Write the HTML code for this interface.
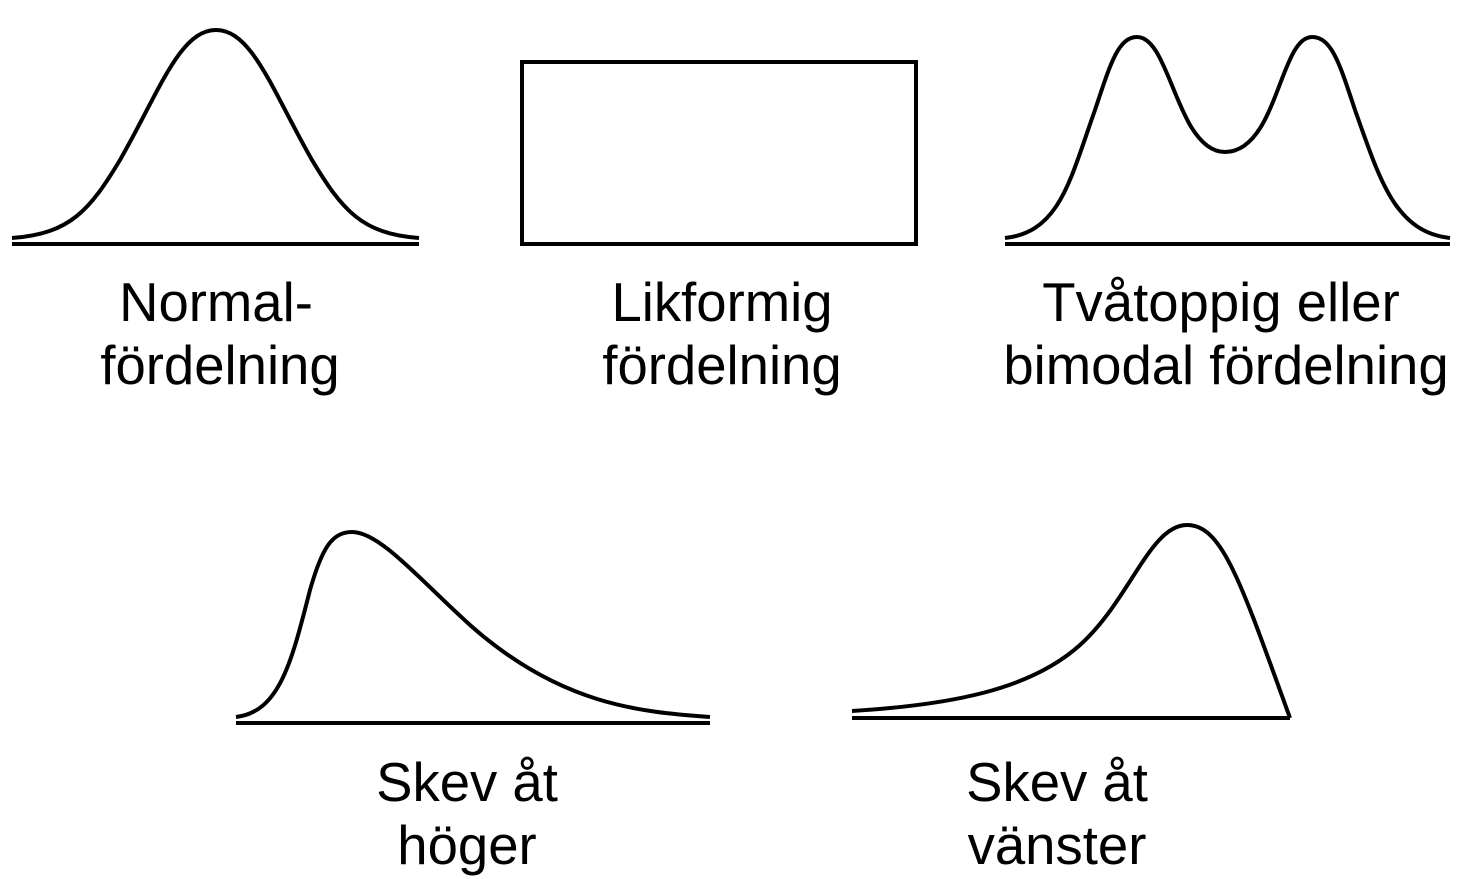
<!DOCTYPE html>
<html><head><meta charset="utf-8"><style>
html,body{margin:0;padding:0;background:#fff;}
svg{display:block;}
text{font-family:"Liberation Sans",Arial,sans-serif;font-size:54.5px;fill:#000;text-anchor:middle;}
</style></head><body>
<svg width="1460" height="879" viewBox="0 0 1460 879" xmlns="http://www.w3.org/2000/svg">
<g fill="none" stroke="#000" stroke-width="4">
<line x1="12" y1="244" x2="419" y2="244"/>
<path d="M12,238 C70,234 90,210 120,160 C160,90 180,30 216,30 C252,30 272,90 312,160 C342,210 362,234 419,238"/>
<rect x="522" y="62" width="394" height="182"/>
<line x1="1005" y1="244" x2="1450" y2="244"/>
<path d="M1005,238 C1060,232 1070,180 1095,110 C1110,65 1118,37 1137,37 C1160,37 1170,90 1190,125 C1200,142 1212,152 1225,152 C1240,152 1252,142 1262,125 C1282,90 1290,37 1312,37 C1332,37 1340,65 1355,110 C1380,180 1395,232 1450,238"/>
<line x1="236" y1="723" x2="710" y2="723"/>
<path d="M236,717 C280,712 292,660 310,590 C322,548 332,532 352,532 C380,532 420,580 470,625 C560,705 640,712 710,717"/>
<line x1="852" y1="718" x2="1290" y2="718"/>
<path d="M852,711 C950,705 1030,690 1080,645 C1130,600 1150,525 1187,525 C1222,525 1240,580 1290,718"/>
</g>
<text x="216" y="321">Normal-</text>
<text x="220" y="384">fördelning</text>
<text x="722" y="321">Likformig</text>
<text x="722" y="384">fördelning</text>
<text x="1221" y="321">Tvåtoppig eller</text>
<text x="1226" y="384">bimodal fördelning</text>
<text x="467" y="801">Skev åt</text>
<text x="467" y="864">höger</text>
<text x="1057" y="801">Skev åt</text>
<text x="1057" y="864">vänster</text>
</svg>
</body></html>
